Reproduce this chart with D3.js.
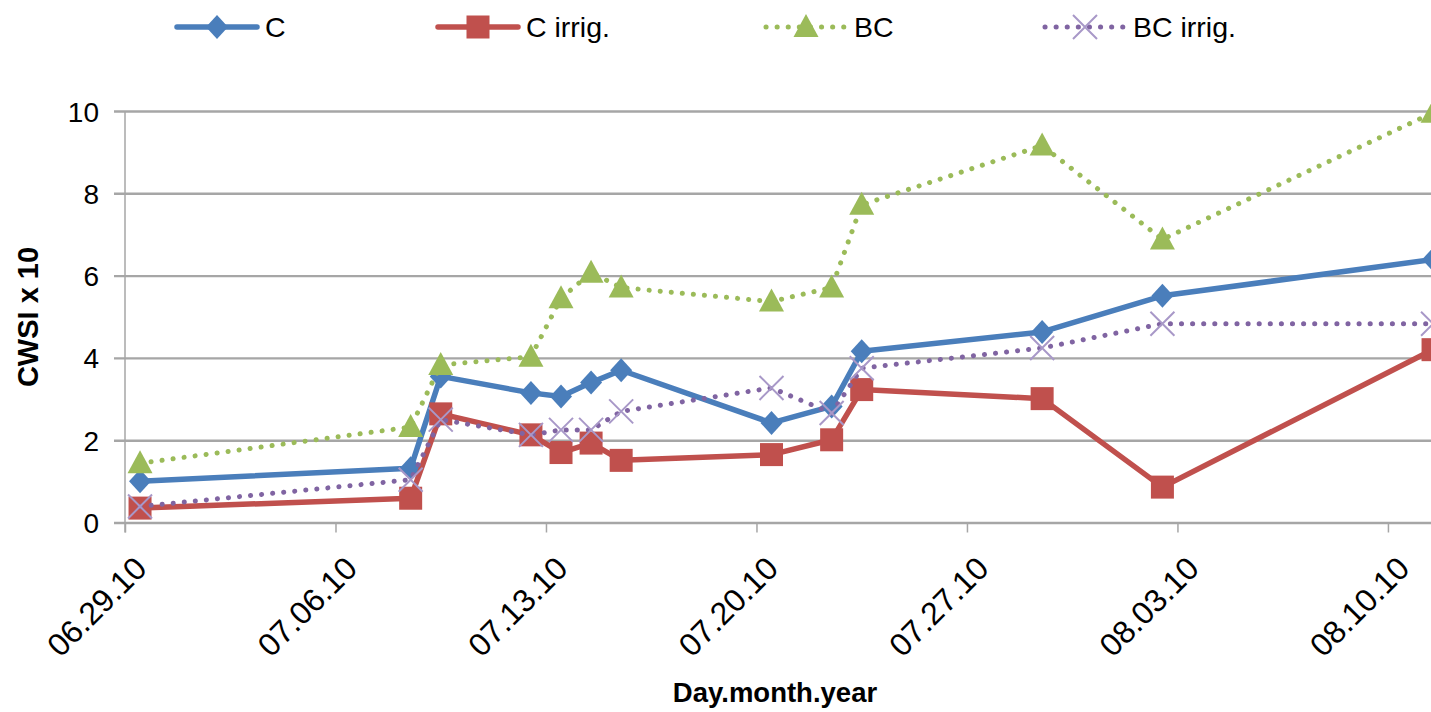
<!DOCTYPE html>
<html><head><meta charset="utf-8">
<script src="https://cdn.jsdelivr.net/npm/d3@7"></script>
<style>body{margin:0;background:#fff;overflow:hidden} svg{display:block} text{font-family:"Liberation Sans",Arial,sans-serif;fill:#000}</style>
</head><body><svg id="c" width="1431" height="712"></svg>
<script>
const dates = ["06.29.10","07.08.10","07.09.10","07.12.10","07.13.10","07.14.10","07.15.10","07.20.10","07.22.10","07.23.10","07.29.10","08.02.10","08.11.10"];
const seriesC = [1.00,1.32,3.55,3.15,3.06,3.40,3.70,2.42,2.82,4.16,4.63,5.51,6.39];
const seriesCIrrig = [0.35,0.59,2.64,2.13,1.70,1.93,1.51,1.65,2.01,3.23,3.01,0.86,4.20];
const seriesBC = [1.44,2.32,3.83,4.03,5.45,6.07,5.71,5.37,5.71,7.72,9.16,6.88,9.96];
const seriesBCIrrig = [0.39,1.04,2.50,2.13,2.25,2.25,2.70,3.27,2.66,3.75,4.24,4.83,4.83];
const seriesNames = ["C","C irrig.","BC","BC irrig."];
const xTickLabels = ["06.29.10","07.06.10","07.13.10","07.20.10","07.27.10","08.03.10","08.10.10"];
const xDomain = ["06.29.10","08.12.10"];
const yTicks = [0,2,4,6,8,10];
const yTitle = "CWSI x 10";
const xTitle = "Day.month.year";

const parse = d3.timeParse("%m.%d.%y");
const svg = d3.select("#c");
const L = 125, T = 111, B = 522.5, dayPx = 30.07;
const x = d3.scaleTime().domain(xDomain.map(parse)).range([L, L + 44*dayPx]);
const y = d3.scaleLinear().domain([0,10]).range([B, T]);
// Excel date axis: points sit mid-day (between tick marks)
const px = s => x(d3.timeHour.offset(parse(s), 12));

// gridlines
const yAx = d3.axisLeft(y).tickValues(yTicks).tickSize(-(1431 - L + 20)).tickSizeOuter(0);
const gy = svg.append("g").attr("transform",`translate(${L},0)`).call(yAx);
gy.select(".domain").remove();
gy.selectAll(".tick line").attr("stroke","#a6a6a6").attr("stroke-width",2.4).attr("x1",-11);
gy.selectAll(".tick text").attr("font-size",28).attr("dy","0.36em").attr("x",-26);

// vertical axis line
svg.append("line").attr("x1",L).attr("x2",L).attr("y1",T).attr("y2",B+10).attr("stroke","#a6a6a6").attr("stroke-width",1.5);

// x axis ticks
const xAx = d3.axisBottom(x).tickValues(xTickLabels.map(parse)).tickFormat(d3.timeFormat("%m.%d.%y")).tickSize(10).tickSizeOuter(0);
const gx = svg.append("g").attr("transform",`translate(0,${B})`).call(xAx);
gx.select(".domain").remove();
gx.selectAll(".tick line").attr("stroke","#a6a6a6").attr("stroke-width",1.5);
gx.selectAll(".tick text").attr("font-size",32).attr("text-anchor","end")
  .attr("y",0).attr("dy",0).attr("transform","translate(23,48) rotate(-45)");

// axis titles
svg.append("text").attr("transform","translate(38,317) rotate(-90)").attr("text-anchor","middle")
  .attr("font-size",29).attr("font-weight","bold").text(yTitle);
svg.append("text").attr("x",775).attr("y",702).attr("text-anchor","middle")
  .attr("font-size",27.5).attr("font-weight","bold").text(xTitle);

const cfg = [
  {vals: seriesC, color:"#4a7ebb", w:5.5, dash:null, marker:"diamond"},
  {vals: seriesCIrrig, color:"#c0504d", w:5.5, dash:null, marker:"square"},
  {vals: seriesBC, color:"#9bbb59", w:5, dash:"0.1 11", marker:"triangle"},
  {vals: seriesBCIrrig, color:"#8064a2", w:5, dash:"0.1 11", marker:"x"}
];

function drawMarker(g, type, cx, cy, color){
  if(type==="diamond"){
    g.append("path").attr("d",`M${cx},${cy-12}L${cx+11},${cy}L${cx},${cy+12}L${cx-11},${cy}Z`).attr("fill",color);
  } else if(type==="square"){
    g.append("rect").attr("x",cx-11.5).attr("y",cy-11.5).attr("width",23).attr("height",23).attr("fill",color);
  } else if(type==="triangle"){
    g.append("path").attr("d",`M${cx},${cy-13}L${cx+12.5},${cy+10}L${cx-12.5},${cy+10}Z`).attr("fill",color);
  } else {
    g.append("path").attr("d",`M${cx-12},${cy-12}L${cx+12},${cy+12}M${cx-12},${cy+12}L${cx+12},${cy-12}`)
      .attr("stroke","#a898c8").attr("stroke-width",2).attr("fill","none");
  }
}

const line = d3.line().x(d=>d[0]).y(d=>d[1]);
cfg.forEach(c => {
  const pts = dates.map((d,i)=>[px(d), y(c.vals[i])]);
  const g = svg.append("g");
  const p = g.append("path").attr("d",line(pts)).attr("fill","none").attr("stroke",c.color)
    .attr("stroke-width",c.w).attr("stroke-linejoin","round").attr("stroke-linecap","round");
  if(c.dash) p.attr("stroke-dasharray",c.dash);
  pts.forEach(q => drawMarker(g, c.marker, q[0], q[1], c.color));
});

// legend
const legX = [177, 438, 766, 1045];
const legY = 27;
cfg.forEach((c,i) => {
  const g = svg.append("g");
  const x0 = legX[i], x1 = x0 + 80;
  const p = g.append("line").attr("x1",x0).attr("x2",x1).attr("y1",legY).attr("y2",legY)
    .attr("stroke",c.color).attr("stroke-width",c.w).attr("stroke-linecap","round");
  if(c.dash) p.attr("stroke-dasharray",c.dash);
  drawMarker(g, c.marker, (x0+x1)/2, legY, c.color);
  g.append("text").attr("x",x1+8).attr("y",legY).attr("dy","0.36em").attr("font-size",28.5).text(seriesNames[i]);
});
</script></body></html>
